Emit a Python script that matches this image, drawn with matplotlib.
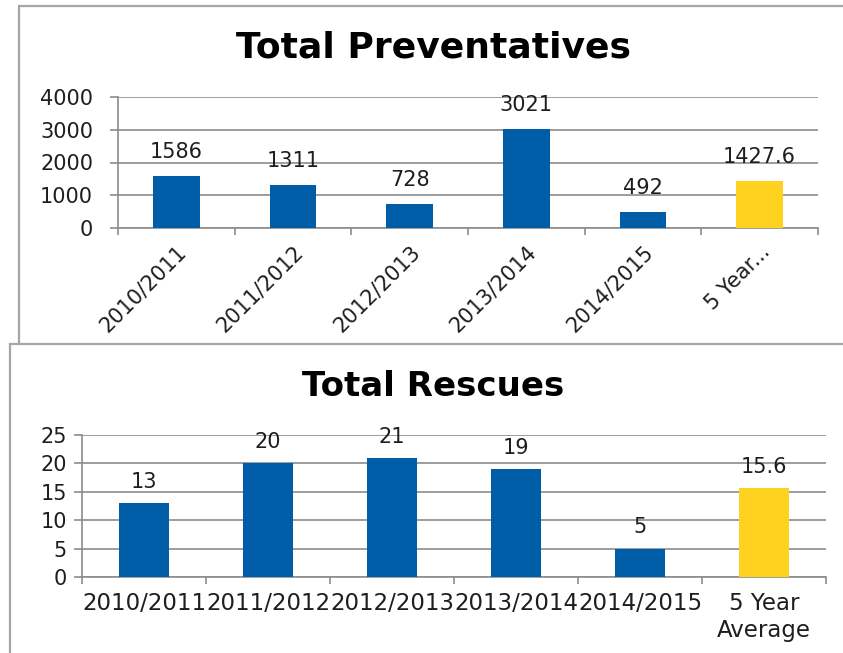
import numpy as np
import matplotlib
matplotlib.use('Agg')
import matplotlib.pyplot as plt
from matplotlib.patches import Rectangle

# data
prev_years = ['2010/2011', '2011/2012', '2012/2013', '2013/2014', '2014/2015', '5 Year...']
prev_values = [1586, 1311, 728, 3021, 492, 1427.6]
prev_labels = ['1586', '1311', '728', '3021', '492', '1427.6']

resc_years = ['2010/2011', '2011/2012', '2012/2013', '2013/2014', '2014/2015', '5 Year\nAverage']
resc_values = [13, 20, 21, 19, 5, 15.6]
resc_labels = ['13', '20', '21', '19', '5', '15.6']

blue = '#005ea8'
yellow = '#ffd21f'
grid_col = '#8c8c8c'
txt = '#1e1e1e'

W, H = 843, 653
fig = plt.figure(figsize=(W / 100, H / 100), dpi=100)
plt.rcParams['font.family'] = ['DejaVu Sans']


def px_axes(x0, y0, x1, y1):
    # pixel box (top-left origin) -> figure fraction
    return fig.add_axes([x0 / W, 1 - y1 / H, (x1 - x0) / W, (y1 - y0) / H])


# panel frames (second panel overlaps the first)
fig.patches.append(Rectangle((19 / W, -0.1), 1.2, 1 - 6 / H + 0.1, transform=fig.transFigure,
                             facecolor='white', edgecolor='#a6a6a6', lw=1.6, zorder=-2))
fig.patches.append(Rectangle((10 / W, -0.1), 1.2, 1 - 344 / H + 0.1, transform=fig.transFigure,
                             facecolor='white', edgecolor='#a6a6a6', lw=1.6, zorder=-1))


def style(ax, ymax, step, yfs, ypad):
    x = np.arange(6)
    ax.set_xlim(-0.5, 5.5)
    ax.set_ylim(0, ymax)
    ax.set_yticks(np.arange(0, ymax + step, step))
    ax.set_facecolor('none')
    for s in ['top', 'right']:
        ax.spines[s].set_visible(False)
    ax.spines['left'].set_color(grid_col)
    ax.spines['bottom'].set_color(grid_col)
    ax.spines['left'].set_linewidth(1.2)
    ax.spines['bottom'].set_linewidth(1.2)
    ax.yaxis.grid(True, color=grid_col, lw=1.2)
    ax.set_axisbelow(True)
    ax.tick_params(axis='y', length=6, width=1.2, color=grid_col, labelsize=yfs, labelcolor=txt, pad=ypad)
    ax.set_xticks(np.arange(-0.5, 6, 1), minor=True)
    ax.tick_params(axis='x', which='minor', length=5, width=1.2, color=grid_col)
    return x


# ---- Total Preventatives
ax1 = px_axes(118, 97, 818, 228)
x = style(ax1, 4000, 1000, 15, 12)
bars = ax1.bar(x, prev_values, width=0.4, color=[blue] * 5 + [yellow], zorder=3)
ax1.bar_label(bars, labels=prev_labels, padding=10, fontsize=15, color=txt)
ax1.set_xticks(x)
ax1.set_xticklabels(prev_years, rotation=45, ha='right', rotation_mode='anchor')
ax1.tick_params(axis='x', which='major', length=0, labelsize=15, labelcolor=txt, pad=10)
fig.text(434 / W, 1 - 47 / H, 'Total Preventatives', ha='center', va='center',
         fontsize=26, fontweight='bold', color='black')

# ---- Total Rescues
ax2 = px_axes(82, 435, 826, 577)
x = style(ax2, 25, 5, 15, 5)
bars = ax2.bar(x, resc_values, width=0.4, color=[blue] * 5 + [yellow], zorder=3)
ax2.bar_label(bars, labels=resc_labels, padding=8, fontsize=15, color=txt)
ax2.set_xticks(x)
ax2.set_xticklabels(resc_years, ha='center', va='top')
ax2.tick_params(axis='x', which='major', length=0, labelsize=16.5, labelcolor=txt, pad=11)
fig.text(433 / W, 1 - 387 / H, 'Total Rescues', ha='center', va='center',
         fontsize=24.5, fontweight='bold', color='black')

fig.savefig('out.png', dpi=100)
